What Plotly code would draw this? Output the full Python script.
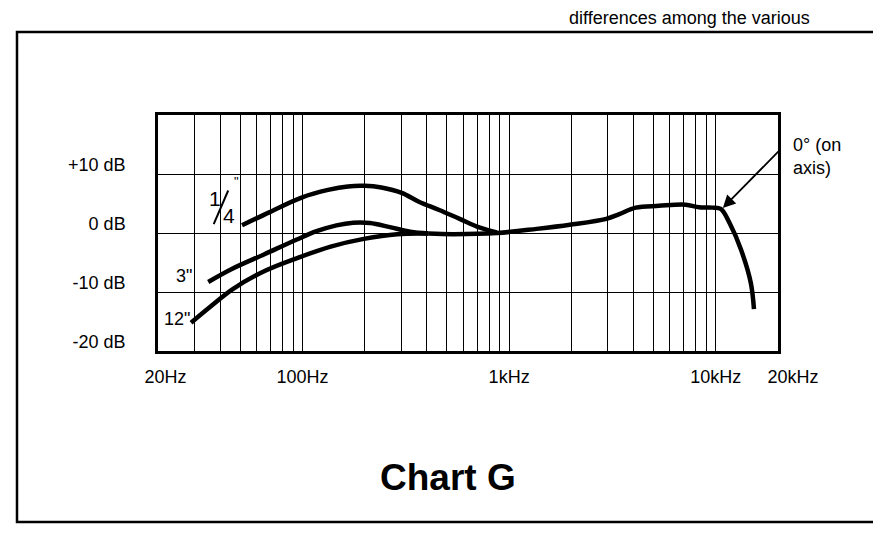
import math
import plotly.graph_objects as go

# ---------------- data ----------------
quarter_freq = [51, 69, 99, 133, 166, 200, 241, 302, 366, 459, 576, 723, 873]
quarter_db = [1.3, 3.5, 6.0, 7.3, 7.9, 8.0, 7.7, 6.8, 5.3, 3.9, 2.4, 0.9, 0.1]

three_freq = [35, 45.5, 65.5, 94, 117, 146, 176, 212, 265, 332, 407]
three_db = [-8.3, -6.1, -3.6, -1.1, 0.3, 1.3, 1.75, 1.7, 1.0, 0.2, -0.1]

twelve_freq = [28.9, 35.8, 46, 66, 95, 137, 198, 287, 407]
twelve_db = [-15.2, -12.5, -9.5, -6.4, -4.2, -2.3, -1.0, -0.2, -0.1]

onaxis_freq = [407, 538, 873, 1359, 1968, 2952, 3412, 4100, 5310, 7145, 8300,
               9630, 10574, 11690, 13238, 14760, 15300]
onaxis_db = [-0.1, -0.2, 0.0, 0.7, 1.4, 2.4, 3.2, 4.3, 4.6, 4.8, 4.35,
             4.3, 4.1, 1.6, -2.8, -8.4, -12.9]

x_grid = [20, 30, 40, 50, 60, 70, 80, 90,
          100, 200, 300, 400, 500, 600, 700, 800, 900,
          1000, 2000, 3000, 4000, 5000, 6000, 7000, 8000, 9000,
          10000, 20000]
x_labels = {20: "\u00a0\u00a0\u00a020Hz", 100: "100Hz", 1000: "1kHz",
            10000: "10kHz", 20000: "\u00a0\u00a0\u00a0\u00a0\u00a0\u00a020kHz"}
y_ticks = [-20, -10, 0, 10]
y_labels = ["-20 dB", "-10 dB", "0 dB", "+10 dB"]

FONT = "Liberation Sans, Arial, Helvetica, sans-serif"

# ---------------- layout geometry ----------------
# the page body adds an 8px margin, so the figure is laid out shifted by -8px
OFF = 8
W, H = 881, 537
L, R, T, B = 158 - OFF, 778 - OFF, 115 - OFF, 351 - OFF


def xp(px):
    return (px - OFF - L) / (R - L)


def yp(py):
    return (B - (py - OFF)) / (B - T)


fig = go.Figure()
line_style = dict(color="black", width=4.5, shape="spline", smoothing=1.0)
for name, f, d in [("1/4\"", quarter_freq, quarter_db),
                   ("3\"", three_freq, three_db),
                   ("12\"", twelve_freq, twelve_db),
                   ("0° (on axis)", onaxis_freq, onaxis_db)]:
    fig.add_trace(go.Scatter(x=f, y=d, mode="lines", name=name,
                             line=line_style, showlegend=False,
                             hoverinfo="x+y+name"))

fig.update_xaxes(type="log", range=[math.log10(20), math.log10(20000)],
                 tickmode="array", tickvals=x_grid,
                 ticktext=[x_labels.get(v, "") for v in x_grid],
                 tickangle=0, automargin=False,
                 showgrid=True, gridcolor="black", gridwidth=1.4,
                 showline=True, mirror=True, linecolor="black", linewidth=2.5,
                 ticks="", ticklabelstandoff=8, zeroline=False,
                 tickfont=dict(family=FONT, size=18, color="black"))
fig.update_yaxes(range=[-20, 20], tickmode="array", tickvals=y_ticks,
                 ticktext=y_labels, showgrid=True, gridcolor="black",
                 automargin=False,
                 gridwidth=1.4, showline=True, mirror=True, linecolor="black",
                 linewidth=2.5, ticks="", zeroline=False,
                 ticklabelstandoff=26, ticklabelshift=-9,
                 tickfont=dict(family=FONT, size=18, color="black"))

annotations = [
    # curve labels
    dict(x=xp(184), y=yp(275.6), text="3\"", font=dict(size=18)),
    dict(x=xp(177), y=yp(319), text="12\"", font=dict(size=18)),
    dict(x=xp(214.6), y=yp(198.1), text="1", font=dict(size=21)),
    dict(x=xp(228.8), y=yp(215.5), text="4", font=dict(size=21)),
    dict(x=xp(236), y=yp(181), text="\"", font=dict(size=13)),
    # on-axis label
    dict(x=xp(791), y=yp(133), text="0° (on<br>axis)", xanchor="left",
         yanchor="top", align="left", font=dict(size=18)),
    # title
    dict(x=xp(448), y=yp(477), text="<b>Chart G</b>", font=dict(size=37)),
    # running text of the page above
    dict(x=xp(812), y=yp(6), text="differences among the various",
         xanchor="right", yanchor="top", font=dict(size=18)),
]
for a in annotations:
    a.setdefault("xref", "paper")
    a.setdefault("yref", "paper")
    a.setdefault("showarrow", False)
    a.setdefault("xanchor", "center")
    a.setdefault("yanchor", "middle")
    a["font"] = dict(family=FONT, color="black", size=a["font"]["size"])

# arrow pointing at the on-axis curve
annotations.append(dict(x=math.log10(10650), y=4.0, xref="x", yref="y",
                        text="", showarrow=True, arrowhead=2, arrowsize=1.4,
                        arrowwidth=1.8, arrowcolor="black", ax=60, ay=-61,
                        axref="pixel", ayref="pixel", standoff=2))

shapes = [
    # slash of the 1/4 fraction
    dict(type="line", xref="paper", yref="paper", x0=xp(213.7), y0=yp(224.2),
         x1=xp(228.2), y1=yp(190.5), line=dict(color="black", width=2)),
    # outer frame of the page figure
    dict(type="rect", xref="paper", yref="paper", x0=xp(17), x1=xp(876),
         y0=yp(522), y1=yp(32), line=dict(color="black", width=2.5),
         layer="below"),
]

fig.update_layout(width=W, height=H, margin=dict(l=L, r=W - R, t=T, b=H - B),
                  paper_bgcolor="white", plot_bgcolor="white",
                  annotations=annotations, shapes=shapes,
                  font=dict(family=FONT, color="black"))

fig.write_html("out.html")
